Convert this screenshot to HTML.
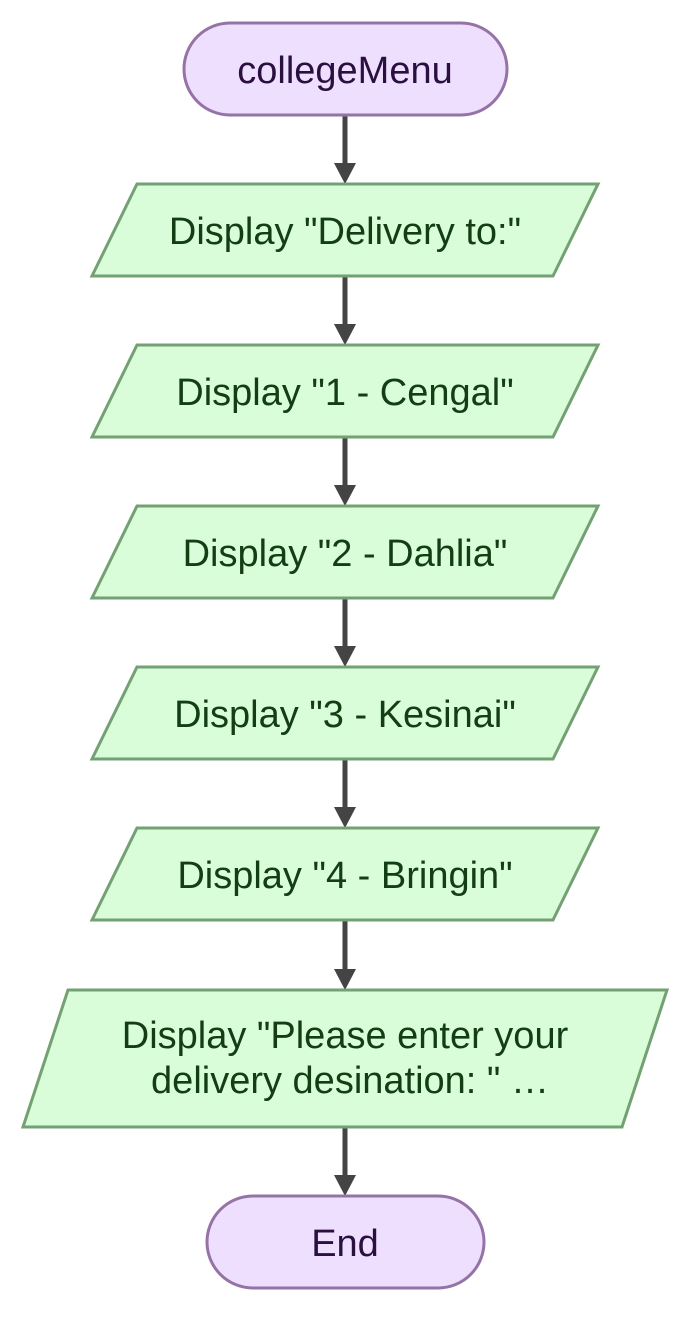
<!DOCTYPE html>
<html><head><meta charset="utf-8"><style>
html,body{margin:0;padding:0;background:#fff;}
svg text{font-family:"Liberation Sans",Arial,sans-serif;font-size:38px;text-anchor:middle;}
</style></head><body>
<svg width="691" height="1312" viewBox="0 0 691 1312" xmlns="http://www.w3.org/2000/svg">
<g stroke="#444" stroke-width="5">
<line x1="345" y1="115" x2="345" y2="166"/>
<line x1="345" y1="276" x2="345" y2="327"/>
<line x1="345" y1="437" x2="345" y2="488"/>
<line x1="345" y1="598" x2="345" y2="649"/>
<line x1="345" y1="759" x2="345" y2="810"/>
<line x1="345" y1="920" x2="345" y2="972"/>
<line x1="345" y1="1127" x2="345" y2="1178"/>
</g>
<g fill="#444">
<polygon points="334,163 356,163 345,184"/>
<polygon points="334,324 356,324 345,345"/>
<polygon points="334,485 356,485 345,506"/>
<polygon points="334,646 356,646 345,667"/>
<polygon points="334,807 356,807 345,828"/>
<polygon points="334,969 356,969 345,990"/>
<polygon points="334,1175 356,1175 345,1196"/>
</g>
<rect x="184" y="23" width="323" height="92" rx="46" fill="#eedfff" stroke="#9573a6" stroke-width="3"/>
<text x="345" y="83" fill="#2a0f3f">collegeMenu</text>
<g fill="#d9fcd9" stroke="#73a173" stroke-width="3">
<polygon points="137,184 598,184 553,276 92,276"/>
<polygon points="137,345 598,345 553,437 92,437"/>
<polygon points="137,506 598,506 553,598 92,598"/>
<polygon points="137,667 598,667 553,759 92,759"/>
<polygon points="137,828 598,828 553,920 92,920"/>
<polygon points="68,990 667,990 622,1127 23,1127"/>
</g>
<g fill="#133d13">
<text x="345" y="244">Display "Delivery to:"</text>
<text x="345" y="405">Display "1 - Cengal"</text>
<text x="345" y="566">Display "2 - Dahlia"</text>
<text x="345" y="727">Display "3 - Kesinai"</text>
<text x="345" y="888">Display "4 - Bringin"</text>
<text x="345" y="1048">Display "Please enter your</text>
<text x="350" y="1093">delivery desination: " …</text>
</g>
<rect x="207" y="1196" width="277" height="92" rx="46" fill="#eedfff" stroke="#9573a6" stroke-width="3"/>
<text x="345" y="1256" fill="#2a0f3f">End</text>
</svg>
</body></html>
